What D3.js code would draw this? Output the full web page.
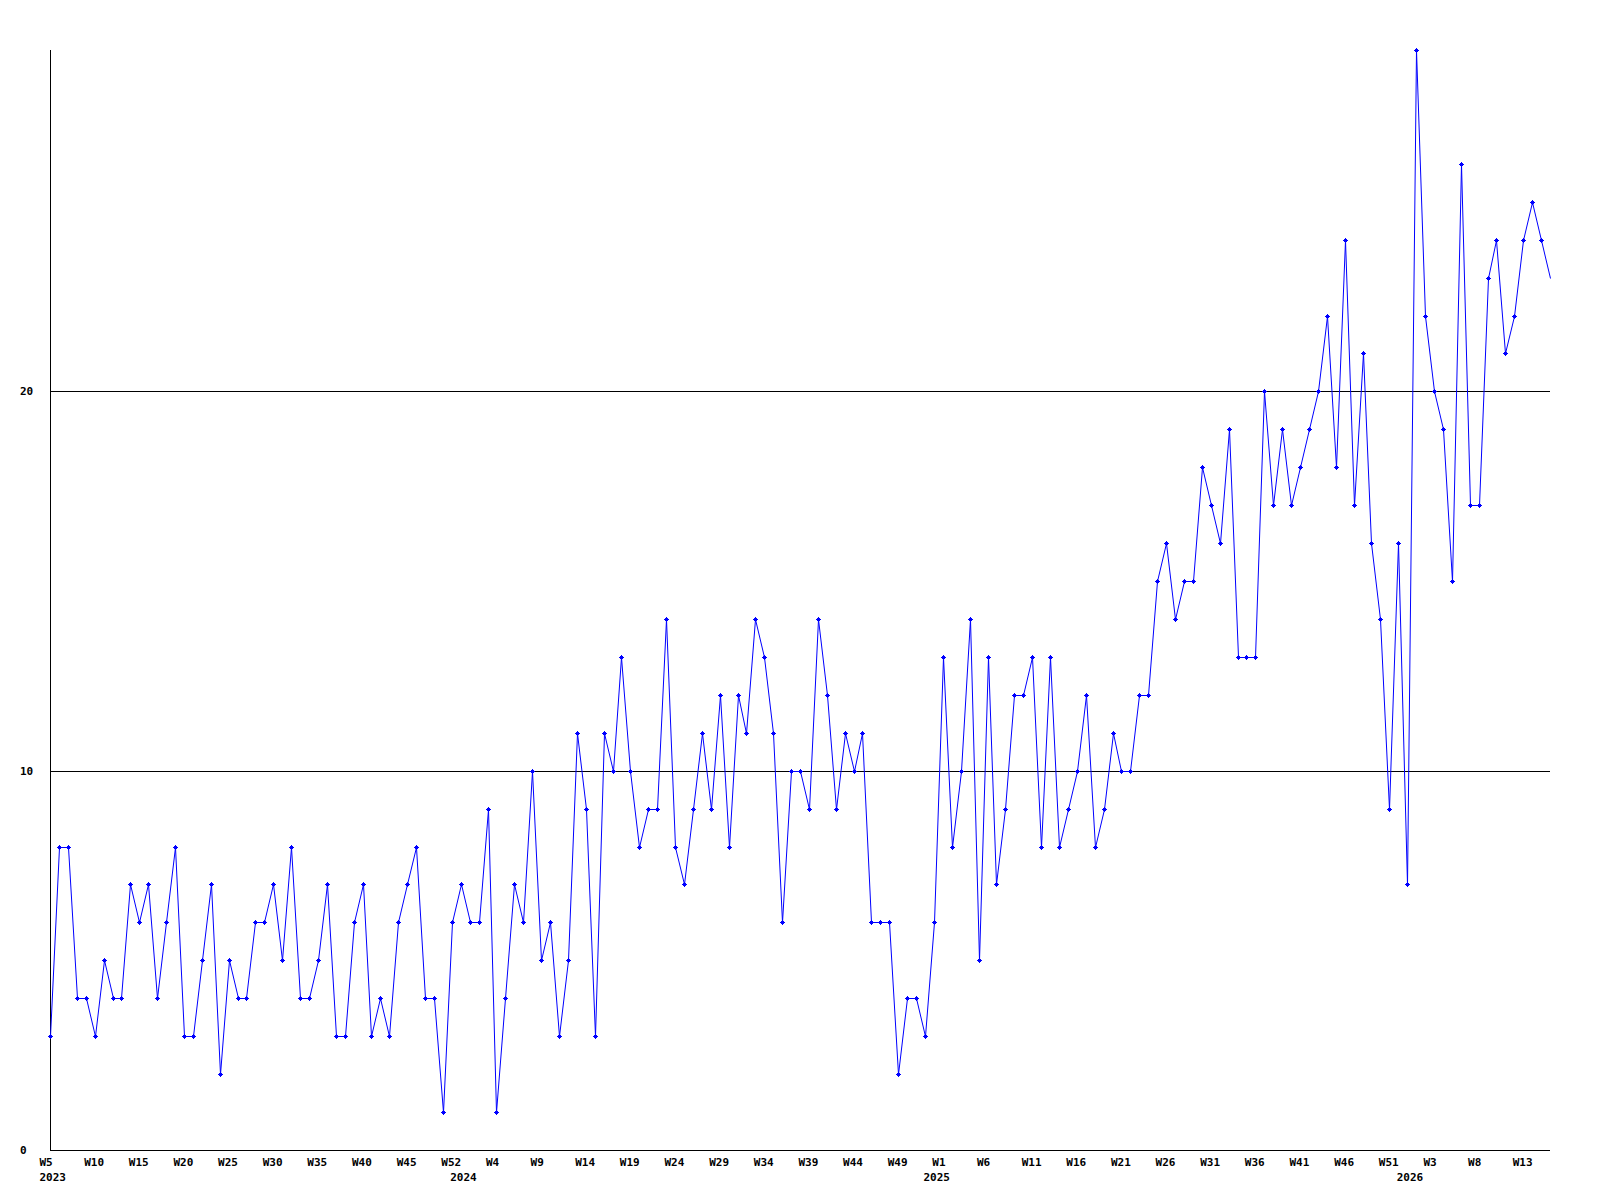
<!DOCTYPE html>
<html>
<head>
<meta charset="utf-8">
<script src="https://cdn.jsdelivr.net/npm/d3@7"></script>
<style>
    body { margin: 0; background: #ffffff; }
    text { font-family: "DejaVu Sans Mono", monospace; font-weight: bold; font-size: 11px; fill: #000000; }
</style>
</head>
<body>
<script>
// weekly counts, 2023 W5 .. 2026 W16
var values = [
    3, 8, 8, 4, 4, 3, 5, 4, 4, 7, 6, 7, 4, 6, 8, 3, 3, 5, 7, 2, 5, 4, 4, 6, 6, 7, 5, 8, 4, 4,
    5, 7, 3, 3, 6, 7, 3, 4, 3, 6, 7, 8, 4, 4, 1, 6, 7,
    6, 6, 9, 1, 4, 7, 6, 10, 5, 6, 3, 5, 11, 9, 3, 11, 10, 13, 10, 8, 9, 9, 14, 8, 7, 9, 11, 9,
    12, 8, 12, 11, 14, 13, 11, 6, 10, 10, 9, 14, 12, 9, 11, 10, 11, 6, 6, 6, 2, 4, 4, 3, 6,
    13, 8, 10, 14, 5, 13, 7, 9, 12, 12, 13, 8, 13, 8, 9, 10, 12, 8, 9, 11, 10, 10, 12, 12, 15,
    16, 14, 15, 15, 18, 17, 16, 19, 13, 13, 13, 20, 17, 19, 17, 18, 19, 20, 22, 18, 24, 17, 21,
    16, 14, 9, 16, 7,
    29, 22, 20, 19, 15, 26, 17, 17, 23, 24, 21, 22, 24, 25, 24, 23
];

// one label every 5 weeks
var weekLabels = [
    "W5", "W10", "W15", "W20", "W25", "W30", "W35", "W40", "W45", "W52",
    "W4", "W9", "W14", "W19", "W24", "W29", "W34", "W39", "W44", "W49",
    "W1", "W6", "W11", "W16", "W21", "W26", "W31", "W36", "W41", "W46", "W51",
    "W3", "W8", "W13"
];
var labelStep = 5;

// year label and the week index it sits under
var years = ["2023", "2024", "2025", "2026"];
var yearAt = [0, 46, 99, 152];

var yTicks = [0, 10, 20];
var yMax = 29;

var width = 1600;
var height = 1200;
// NB: "top" is taken by window.top, so plot_* names
var plot_left = 50, plot_right = 1550, plot_top = 50, plot_bottom = 1150;

var svg = d3.select("body").append("svg")
    .attr("width", width)
    .attr("height", height);

var x = d3.scaleLinear().domain([0, values.length - 1]).range([plot_left, plot_right]);
var y = d3.scaleLinear().domain([0, yMax]).range([plot_bottom, plot_top]);

function px(v) { return Math.round(v) + 0.5; }

// grid lines
svg.append("g").selectAll("line.grid")
    .data(yTicks.filter(function (d) { return d > 0; }))
    .enter().append("line")
    .attr("class", "grid")
    .attr("x1", plot_left).attr("x2", plot_right)
    .attr("y1", function (d) { return px(y(d)); })
    .attr("y2", function (d) { return px(y(d)); })
    .attr("stroke", "#000")
    .attr("shape-rendering", "crispEdges");

// axes
svg.append("line")
    .attr("x1", px(plot_left)).attr("x2", px(plot_left))
    .attr("y1", plot_top).attr("y2", plot_bottom)
    .attr("stroke", "#000").attr("shape-rendering", "crispEdges");
svg.append("line")
    .attr("x1", plot_left).attr("x2", plot_right)
    .attr("y1", px(plot_bottom)).attr("y2", px(plot_bottom))
    .attr("stroke", "#000").attr("shape-rendering", "crispEdges");

// y labels
svg.append("g").selectAll("text.ylab")
    .data(yTicks).enter().append("text")
    .attr("class", "ylab")
    .attr("x", 20)
    .attr("y", function (d) { return y(d); })
    .attr("dy", "0.35em")
    .text(function (d) { return d; });

// week labels, left edge a bit before the point
svg.append("g").selectAll("text.wlab")
    .data(weekLabels).enter().append("text")
    .attr("class", "wlab")
    .attr("x", function (d, i) { return x(i * labelStep) - 10.5; })
    .attr("y", 1166)
    .text(function (d) { return d; });

// year labels
svg.append("g").selectAll("text.year")
    .data(years).enter().append("text")
    .attr("class", "year")
    .attr("x", function (d, i) { return x(yearAt[i]) - 10.5; })
    .attr("y", 1181)
    .text(function (d) { return d; });

// the series
var line = d3.line()
    .x(function (d, i) { return px(x(i)); })
    .y(function (d) { return px(y(d)); });

svg.append("path")
    .datum(values)
    .attr("d", line)
    .attr("fill", "none")
    .attr("stroke", "#0000ff")
    .attr("stroke-width", 1);

// markers (the last point sits on the edge and has none)
var marks = svg.append("g").selectAll("g.mark")
    .data(values.slice(0, values.length - 1))
    .enter().append("g")
    .attr("class", "mark")
    .attr("transform", function (d, i) {
        return "translate(" + px(x(i)) + "," + px(y(d)) + ")";
    });
marks.append("path")
    .attr("d", "M-2.5,0H2.5M0,-2.5V2.5")
    .attr("stroke", "#0000ff")
    .attr("shape-rendering", "crispEdges");
marks.append("rect")
    .attr("x", -1.5).attr("y", -1.5)
    .attr("width", 3).attr("height", 3)
    .attr("fill", "#0000ff")
    .attr("shape-rendering", "crispEdges");
</script>
</body>
</html>
